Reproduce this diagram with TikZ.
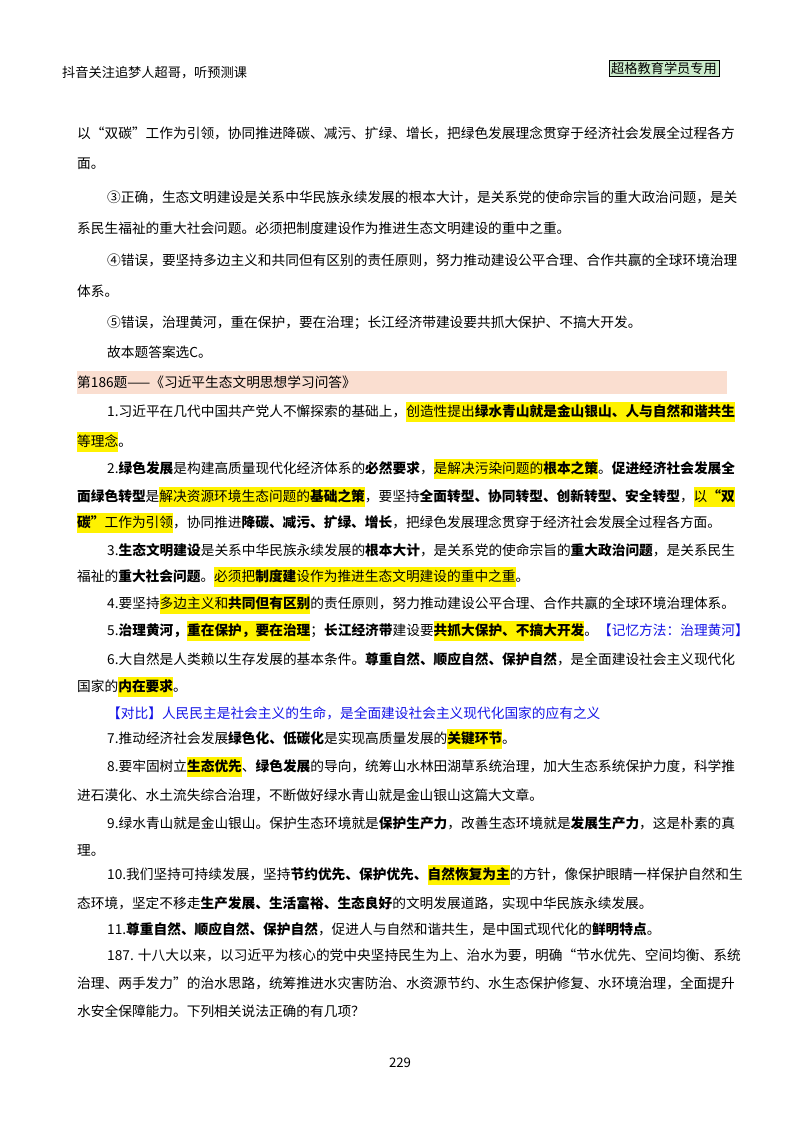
\documentclass[tikz,border=0pt]{standalone}
\usepackage{fontspec}
\setmainfont{Noto Sans CJK SC}
\definecolor{bandpink}{RGB}{250,222,208}
\definecolor{tagGreen}{RGB}{204,236,204}
\definecolor{memoBlue}{RGB}{20,20,230}
\begin{document}
\begin{tikzpicture}[x=1pt,y=-1pt,
  txt/.style={anchor=west, inner sep=0pt, font=\fontsize{13.7}{16}\selectfont},
  small/.style={anchor=west, inner sep=0pt, font=\fontsize{13.2}{15}\selectfont}]

  \newcommand\HL[1]{{\fboxsep=0pt\colorbox{yellow}{\rule[-6pt]{0pt}{20pt}#1}}}
  \newcommand\INDENT{107}
  \newcommand\LEFT{77}

  \useasboundingbox (0,0) rectangle (800,1132);

  % header
  \node[small] (head) at (62,73) {抖音关注追梦人超哥，听预测课};
  \node[small, anchor=center, draw=black, fill=tagGreen, inner sep=2pt] (tag) at (664,68) {超格教育学员专用};

  % tail of previous answer
  \node[txt] (p1) at (\LEFT,133) {以“双碳”工作为引领，协同推进降碳、减污、扩绿、增长，把绿色发展理念贯穿于经济社会发展全过程各方};
  \node[txt] (p2) at (\LEFT,164) {面。};
  \node[txt] (p3) at (\INDENT,197) {③正确，生态文明建设是关系中华民族永续发展的根本大计，是关系党的使命宗旨的重大政治问题，是关};
  \node[txt] (p4) at (\LEFT,228) {系民生福祉的重大社会问题。必须把制度建设作为推进生态文明建设的重中之重。};
  \node[txt] (p5) at (\INDENT,260) {④错误，要坚持多边主义和共同但有区别的责任原则，努力推动建设公平合理、合作共赢的全球环境治理};
  \node[txt] (p6) at (\LEFT,291) {体系。};
  \node[txt] (p7) at (\INDENT,323) {⑤错误，治理黄河，重在保护，要在治理；长江经济带建设要共抓大保护、不搞大开发。};
  \node[txt] (p8) at (\INDENT,352) {故本题答案选C。};

  % question 186
  \fill[bandpink] (\LEFT,371) rectangle (727,394);
  \node[txt] (q) at (\LEFT,382) {第186题——《习近平生态文明思想学习问答》};

  \node[txt] (a1) at (\INDENT,412) {1.习近平在几代中国共产党人不懈探索的基础上，\HL{创造性提出\textbf{绿水青山就是金山银山、人与自然和谐共生}}};
  \node[txt] (a1b) at (\LEFT,442) {\HL{等理念}。};
  \node[txt] (a2) at (\INDENT,469) {2.\textbf{绿色发展}是构建高质量现代化经济体系的\textbf{必然要求}，\HL{是解决污染问题的\textbf{根本之策}}。\textbf{促进经济社会发展全}};
  \node[txt] (a2b) at (\LEFT,497) {\textbf{面绿色转型}是\HL{解决资源环境生态问题的\textbf{基础之策}}，要坚持\textbf{全面转型、协同转型、创新转型、安全转型}，\HL{以\textbf{“双}}};
  \node[txt] (a2c) at (\LEFT,523) {\HL{\textbf{碳”}工作为引领}，协同推进\textbf{降碳、减污、扩绿、增长}，把绿色发展理念贯穿于经济社会发展全过程各方面。};
  \node[txt] (a3) at (\INDENT,550) {3.\textbf{生态文明建设}是关系中华民族永续发展的\textbf{根本大计}，是关系党的使命宗旨的\textbf{重大政治问题}，是关系民生};
  \node[txt] (a3b) at (\LEFT,577) {福祉的\textbf{重大社会问题}。\HL{必须把\textbf{制度建}设作为推进生态文明建设的重中之重}。};
  \node[txt] (a4) at (\INDENT,604) {4.要坚持\HL{多边主义和\textbf{共同但有区别}}的责任原则，努力推动建设公平合理、合作共赢的全球环境治理体系。};
  \node[txt] (a5) at (\INDENT,631) {5.\textbf{治理黄河，}\HL{\textbf{重在保护，要在治理}}；\textbf{长江经济带}建设要\HL{\textbf{共抓大保护、不搞大开发}}。\textcolor{memoBlue}{【记忆方法：治理黄河】}};
  \node[txt] (a6) at (\INDENT,659) {6.大自然是人类赖以生存发展的基本条件。\textbf{尊重自然、顺应自然、保护自然}，是全面建设社会主义现代化};
  \node[txt] (a6b) at (\LEFT,687) {国家的\HL{\textbf{内在要求}}。};
  \node[txt, text=memoBlue] (cmp) at (\INDENT,713) {【对比】人民民主是社会主义的生命，是全面建设社会主义现代化国家的应有之义};
  \node[txt] (a7) at (\INDENT,739) {7.推动经济社会发展\textbf{绿色化、低碳化}是实现高质量发展的\HL{\textbf{关键环节}}。};
  \node[txt] (a8) at (\INDENT,767) {8.要牢固树立\HL{\textbf{生态优先}}、\textbf{绿色发展}的导向，统筹山水林田湖草系统治理，加大生态系统保护力度，科学推};
  \node[txt] (a8b) at (\LEFT,795) {进石漠化、水土流失综合治理，不断做好绿水青山就是金山银山这篇大文章。};
  \node[txt] (a9) at (\INDENT,823) {9.绿水青山就是金山银山。保护生态环境就是\textbf{保护生产力}，改善生态环境就是\textbf{发展生产力}，这是朴素的真};
  \node[txt] (a9b) at (\LEFT,850) {理。};
  \node[txt] (a10) at (\INDENT,875) {10.我们坚持可持续发展，坚持\textbf{节约优先、保护优先、}\HL{\textbf{自然恢复为主}}的方针，像保护眼睛一样保护自然和生};
  \node[txt] (a10b) at (\LEFT,903) {态环境，坚定不移走\textbf{生产发展、生活富裕、生态良好}的文明发展道路，实现中华民族永续发展。};
  \node[txt] (a11) at (\INDENT,929) {11.\textbf{尊重自然、顺应自然、保护自然}，促进人与自然和谐共生，是中国式现代化的\textbf{鲜明特点}。};

  % question 187
  \node[txt] (b1) at (\INDENT,955) {187. 十八大以来，以习近平为核心的党中央坚持民生为上、治水为要，明确“节水优先、空间均衡、系统};
  \node[txt] (b2) at (\LEFT,983) {治理、两手发力”的治水思路，统筹推进水灾害防治、水资源节约、水生态保护修复、水环境治理，全面提升};
  \node[txt] (b3) at (\LEFT,1011) {水安全保障能力。下列相关说法正确的有几项？};

  \node[small, anchor=center] (page) at (400,1063) {229};

\end{tikzpicture}
\end{document}
